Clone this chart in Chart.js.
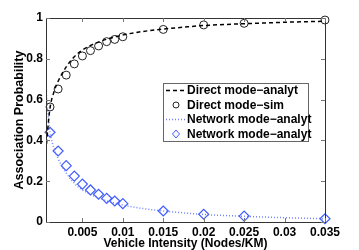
<!DOCTYPE html>
<html>
<head>
<meta charset="utf-8">
<script src="https://cdn.jsdelivr.net/npm/chart.js@4/dist/chart.umd.min.js"></script>
<style>
  html, body { margin: 0; padding: 0; background: #fff; }
  #wrap { width: 359px; height: 250px; }
</style>
</head>
<body>
<div id="wrap"><canvas id="assocChart" width="359" height="250"></canvas></div>
<script>
// simulated points
const simX = [0.001, 0.002, 0.003, 0.004, 0.005, 0.006, 0.007, 0.008, 0.009, 0.01, 0.015, 0.02, 0.025, 0.035];
const directSim = [0.564, 0.652, 0.72, 0.775, 0.814, 0.84, 0.863, 0.884, 0.895, 0.908, 0.944, 0.966, 0.974, 0.99];
const networkSim = [0.44, 0.348, 0.276, 0.225, 0.186, 0.157, 0.136, 0.116, 0.103, 0.09, 0.054, 0.038, 0.029, 0.016];

// analytic curves
const analytX = [0.0005, 0.00075, 0.001, 0.0015, 0.002, 0.003, 0.004, 0.005, 0.006, 0.007, 0.008, 0.009, 0.01, 0.0125, 0.015, 0.0175, 0.02, 0.025, 0.03, 0.035];
const directAnalyt = [0.35, 0.47, 0.56, 0.64, 0.69, 0.76, 0.81, 0.843, 0.865, 0.882, 0.896, 0.907, 0.917, 0.934, 0.946, 0.955, 0.963, 0.972, 0.979, 0.984];
const networkAnalyt = [0.65, 0.53, 0.44, 0.36, 0.31, 0.24, 0.19, 0.157, 0.135, 0.118, 0.104, 0.093, 0.083, 0.066, 0.054, 0.045, 0.037, 0.028, 0.021, 0.016];

const xTicks = [0.005, 0.01, 0.015, 0.02, 0.025, 0.03, 0.035];
const yTicks = [0, 0.2, 0.4, 0.6, 0.8, 1];

const labels = ["Direct mode\u2212analyt", "Direct mode\u2212sim", "Network mode\u2212analyt", "Network mode\u2212analyt"];

const zip = (xs, ys) => xs.map((x, i) => ({ x: x, y: ys[i] }));

const FAMILY = "'Liberation Sans', Arial, sans-serif";
const FONT = "bold 12px " + FAMILY;
const BLUE = "#3f5cff";
const DOTBLUE = "rgba(90,110,255,0.85)";

// frame + inward ticks, matlab style
const framePlugin = {
  id: "frame",
  afterDatasetsDraw(chart) {
    const { ctx, chartArea: a, scales } = chart;
    ctx.save();
    ctx.strokeStyle = "#333";
    ctx.lineWidth = 1;
    ctx.strokeRect(a.left + 0.5, a.top + 0.5, a.right - a.left, a.bottom - a.top);
    ctx.strokeStyle = "#777";
    ctx.beginPath();
    xTicks.forEach((t) => {
      const px = Math.round(scales.x.getPixelForValue(t)) + 0.5;
      ctx.moveTo(px, a.bottom); ctx.lineTo(px, a.bottom - 4);
      ctx.moveTo(px, a.top); ctx.lineTo(px, a.top + 4);
    });
    yTicks.forEach((t) => {
      const py = Math.round(scales.y.getPixelForValue(t)) + 0.5;
      ctx.moveTo(a.left, py); ctx.lineTo(a.left + 4, py);
      ctx.moveTo(a.right, py); ctx.lineTo(a.right - 4, py);
    });
    ctx.stroke();
    ctx.restore();
  },
  afterDraw(chart) {
    // legend box inside plot
    const ctx = chart.ctx;
    const bx = 163, by = 83, bw = 145, bh = 58;
    ctx.save();
    ctx.fillStyle = "#fff";
    ctx.fillRect(bx, by, bw, bh);
    ctx.strokeStyle = "#666";
    ctx.lineWidth = 1;
    ctx.strokeRect(bx + 0.5, by + 0.5, bw, bh);
    chart.data.datasets.forEach((ds, i) => {
      const cy = by + 7.5 + i * 14.5;
      ctx.save();
      if (ds.showLine) {
        ctx.strokeStyle = ds.borderColor;
        ctx.lineWidth = ds.borderWidth;
        ctx.setLineDash(ds.borderDash || []);
        ctx.beginPath();
        ctx.moveTo(166, cy); ctx.lineTo(186, cy);
        ctx.stroke();
      } else {
        ctx.strokeStyle = ds.pointBorderColor;
        ctx.lineWidth = 1;
        ctx.beginPath();
        if (ds.pointStyle === "rectRot") {
          ctx.moveTo(176, cy - 4); ctx.lineTo(179.5, cy); ctx.lineTo(176, cy + 4); ctx.lineTo(172.5, cy); ctx.closePath();
        } else {
          ctx.arc(176, cy, 3, 0, Math.PI * 2);
        }
        ctx.stroke();
      }
      ctx.restore();
      ctx.fillStyle = "#000";
      ctx.font = FONT;
      ctx.textBaseline = "middle";
      ctx.fillText(ds.label, 187, cy + 0.5);
    });
    ctx.restore();
  }
};

new Chart(document.getElementById("assocChart"), {
  type: "scatter",
  data: {
    datasets: [
      {
        label: labels[0],
        data: zip(analytX, directAnalyt),
        showLine: true,
        borderColor: "#000",
        borderWidth: 1.5,
        borderDash: [4, 3],
        pointRadius: 0,
        cubicInterpolationMode: "monotone",
      },
      {
        label: labels[1],
        data: zip(simX, directSim),
        showLine: false,
        pointStyle: "circle",
        pointRadius: 4,
        pointBorderColor: "#222",
        pointBackgroundColor: "rgba(0,0,0,0)",
        pointBorderWidth: 1,
        clip: false,
      },
      {
        label: labels[2],
        data: zip(analytX, networkAnalyt),
        showLine: true,
        borderColor: DOTBLUE,
        borderWidth: 1.5,
        borderDash: [1, 2],
        pointRadius: 0,
        cubicInterpolationMode: "monotone",
      },
      {
        label: labels[3],
        data: zip(simX, networkSim),
        showLine: false,
        pointStyle: "rectRot",
        pointRadius: 5,
        pointBorderColor: BLUE,
        pointBackgroundColor: "rgba(0,0,0,0)",
        pointBorderWidth: 1.2,
        clip: false,
      },
    ],
  },
  options: {
    responsive: false,
    animation: false,
    layout: { padding: { top: 18, right: 34, left: 0, bottom: 0 } },
    plugins: { legend: { display: false }, tooltip: { enabled: false } },
    scales: {
      x: {
        type: "linear",
        min: 0.0005,
        max: 0.035,
        afterBuildTicks: (s) => { s.ticks = xTicks.map((v) => ({ value: v })); },
        afterFit: (s) => { s.height = 28; },
        grid: { display: false, drawTicks: false },
        border: { display: false },
        ticks: {
          color: "#000",
          font: { family: FAMILY, size: 12, weight: "bold" },
          padding: 3,
          maxRotation: 0,
          autoSkip: false,
          callback: (v) => String(v),
        },
        title: {
          display: true,
          text: "Vehicle Intensity (Nodes/KM)",
          color: "#000",
          font: { family: FAMILY, size: 12, weight: "bold" },
          padding: { top: 0, bottom: -0.5 },
        },
      },
      y: {
        min: 0,
        max: 1,
        afterBuildTicks: (s) => { s.ticks = yTicks.map((v) => ({ value: v })); },
        afterFit: (s) => { s.width = 46; },
        grid: { display: false, drawTicks: false },
        border: { display: false },
        ticks: {
          color: "#000",
          font: { family: FAMILY, size: 12, weight: "bold" },
          padding: 3,
          callback: (v) => String(v),
        },
        title: {
          display: true,
          text: "Association Probability",
          color: "#000",
          font: { family: FAMILY, size: 12.5, weight: "bold" },
          padding: { top: 12, bottom: 0 },
        },
      },
    },
  },
  plugins: [framePlugin],
});
</script>
</body>
</html>
